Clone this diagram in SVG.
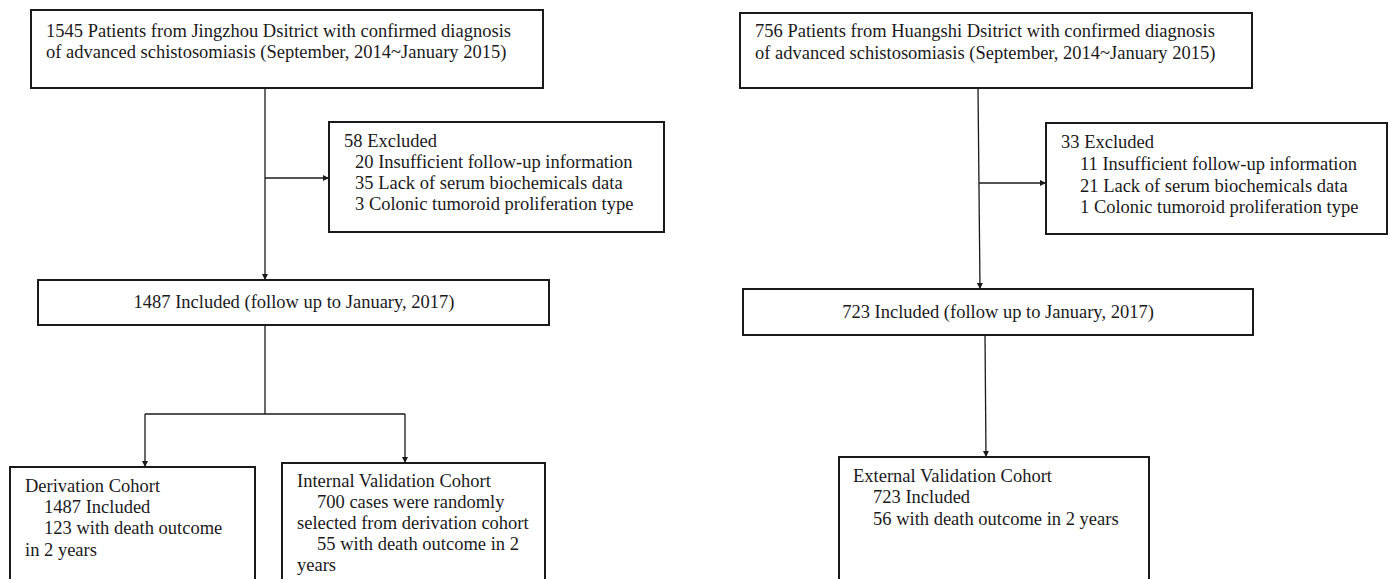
<svg xmlns="http://www.w3.org/2000/svg" width="1389" height="579" viewBox="0 0 1389 579">
<style>
.box{fill:#fff;stroke:#1a1a1a;stroke-width:2}
.t{font-family:"Liberation Serif","Times New Roman",serif;font-size:18.5px;fill:#1a1a1a}
.c{text-anchor:middle}
.ln{fill:none;stroke:#1a1a1a;stroke-width:1.3}
</style>
<defs>
<marker id="ah" viewBox="0 0 8 8" refX="8" refY="4" markerWidth="6" markerHeight="6" markerUnits="userSpaceOnUse" orient="auto">
<path d="M0,0 L8,4 L0,8 z" fill="#1a1a1a"/>
</marker>
</defs>
<rect width="1389" height="579" fill="#fff"/>
<g id="connectors">
<line class="ln" x1="265" y1="88" x2="265" y2="280" marker-end="url(#ah)"/>
<line class="ln" x1="265" y1="178" x2="329" y2="178" marker-end="url(#ah)"/>
<line class="ln" x1="265" y1="325" x2="265" y2="414"/>
<line class="ln" x1="145" y1="414" x2="405" y2="414"/>
<line class="ln" x1="145" y1="414" x2="145" y2="467" marker-end="url(#ah)"/>
<line class="ln" x1="405" y1="414" x2="405" y2="463" marker-end="url(#ah)"/>
<line class="ln" x1="978" y1="88" x2="980" y2="289" marker-end="url(#ah)"/>
<line class="ln" x1="979" y1="183" x2="1046" y2="183" marker-end="url(#ah)"/>
<line class="ln" x1="985" y1="335" x2="986" y2="457" marker-end="url(#ah)"/>
</g>
<g id="jingzhou">
<rect class="box" x="31" y="10" width="512" height="78"/>
<text class="t" x="46" y="37">1545 Patients from Jingzhou Dsitrict with confirmed diagnosis</text>
<text class="t" x="46" y="58">of advanced schistosomiasis (September, 2014~January 2015)</text>
</g>
<g id="excluded-left">
<rect class="box" x="329" y="122" width="335" height="110"/>
<text class="t" x="344" y="147">58 Excluded</text>
<text class="t" x="355" y="168">20 Insufficient follow-up information</text>
<text class="t" x="355" y="189">35 Lack of serum biochemicals data</text>
<text class="t" x="355" y="210">3 Colonic tumoroid proliferation type</text>
</g>
<g id="included-left">
<rect class="box" x="38" y="280" width="511" height="45"/>
<text class="t c" x="294" y="308">1487 Included (follow up to January, 2017)</text>
</g>
<g id="derivation">
<rect class="box" x="10" y="467" width="245" height="130"/>
<text class="t" x="25" y="492">Derivation Cohort</text>
<text class="t" x="44" y="513">1487 Included</text>
<text class="t" x="44" y="534">123 with death outcome</text>
<text class="t" x="25" y="556">in 2 years</text>
</g>
<g id="internal">
<rect class="box" x="282" y="463" width="263" height="134"/>
<text class="t" x="297" y="487">Internal Validation Cohort</text>
<text class="t" x="317" y="508">700 cases were randomly</text>
<text class="t" x="297" y="529">selected from derivation cohort</text>
<text class="t" x="317" y="550">55 with death outcome in 2</text>
<text class="t" x="297" y="571">years</text>
</g>
<g id="huangshi">
<rect class="box" x="740" y="13" width="512" height="75"/>
<text class="t" x="755" y="37">756 Patients from Huangshi Dsitrict with confirmed diagnosis</text>
<text class="t" x="755" y="59">of advanced schistosomiasis (September, 2014~January 2015)</text>
</g>
<g id="excluded-right">
<rect class="box" x="1046" y="123" width="341" height="111"/>
<text class="t" x="1061" y="148">33 Excluded</text>
<text class="t" x="1080" y="170">11 Insufficient follow-up information</text>
<text class="t" x="1080" y="192">21 Lack of serum biochemicals data</text>
<text class="t" x="1080" y="213">1 Colonic tumoroid proliferation type</text>
</g>
<g id="included-right">
<rect class="box" x="743" y="289" width="510" height="46"/>
<text class="t c" x="998" y="318">723 Included (follow up to January, 2017)</text>
</g>
<g id="external">
<rect class="box" x="839" y="457" width="310" height="140"/>
<text class="t" x="853" y="482">External Validation Cohort</text>
<text class="t" x="873" y="503">723 Included</text>
<text class="t" x="873" y="525">56 with death outcome in 2 years</text>
</g>
</svg>
